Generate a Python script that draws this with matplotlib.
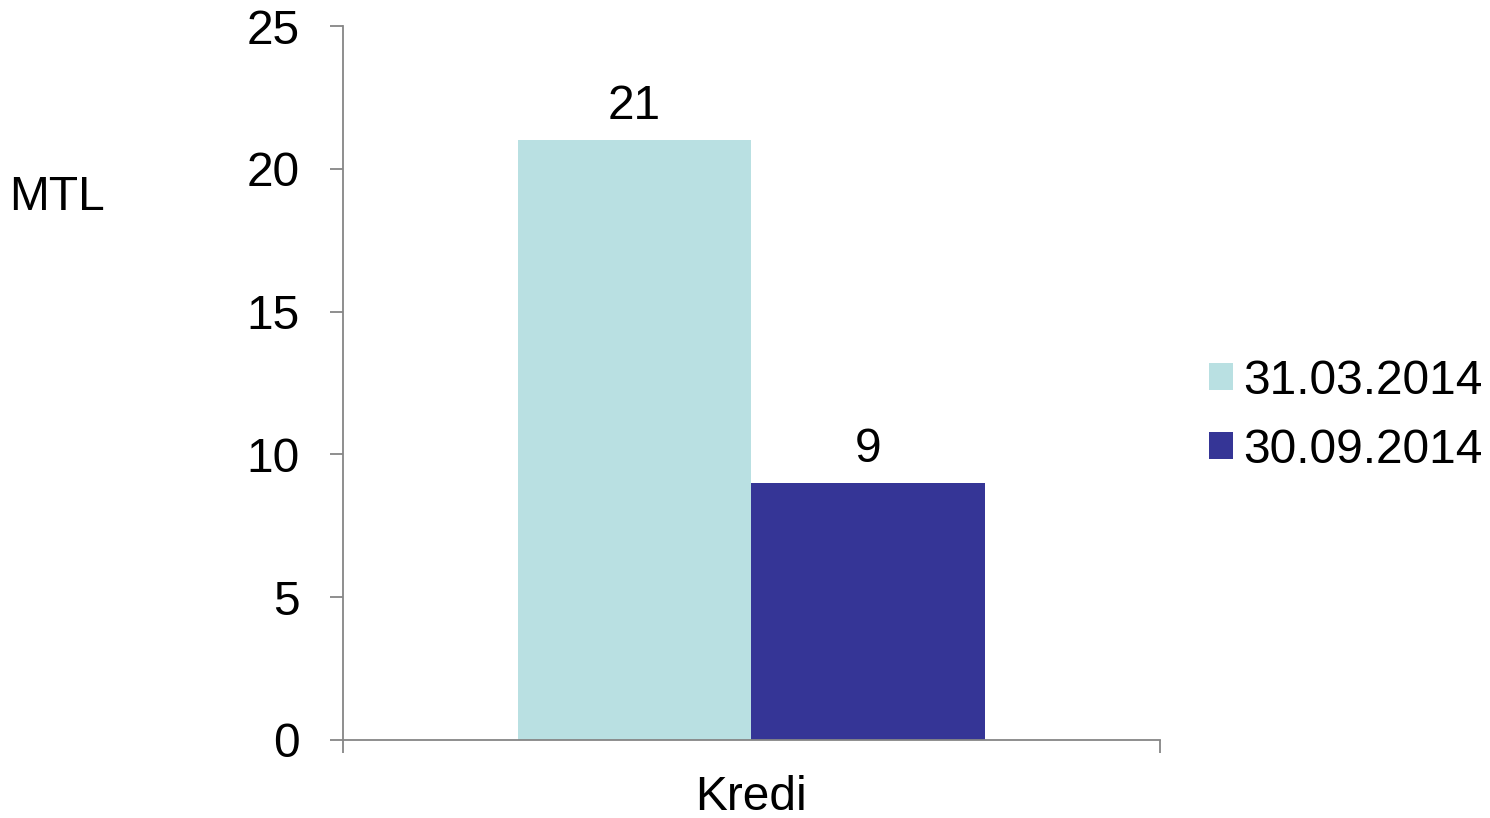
import matplotlib.pyplot as plt
from matplotlib.patches import Patch

plt.rcParams['font.family'] = ['Liberation Sans', 'DejaVu Sans']

categories = ['Kredi']
series_names = ['31.03.2014', '30.09.2014']
series_values = [[21], [9]]
colors = ['#B9E0E2', '#353596']
yticks = [0, 5, 10, 15, 20, 25]

fs = 34.5
fig = plt.figure(figsize=(14.9, 8.18), dpi=100)
ax = fig.add_axes([0.2302, 0.0954, 0.5483, 0.8728])

width = 0.2864
offsets = [-width / 2, width / 2]
for vals, off, col in zip(series_values, offsets, colors):
    xs = [i + off for i in range(len(categories))]
    bars = ax.bar(xs, vals, width=width, color=col, edgecolor='none')
    for b, v in zip(bars, vals):
        ax.annotate(str(v), (b.get_x() + b.get_width() / 2, v),
                    xytext=(0, 8), textcoords='offset points',
                    ha='center', va='bottom', fontsize=fs)

ax.set_xlim(-0.5, len(categories) - 0.5)
ax.set_ylim(0, 25)
ax.set_yticks(yticks)
ax.set_yticklabels([str(t) for t in yticks], fontsize=fs)
ax.set_xticks(range(len(categories)))
ax.set_xticklabels(categories, fontsize=fs)
ax.set_xticks([-0.5, len(categories) - 0.5], minor=True)
ax.tick_params(axis='x', which='major', length=0, pad=25)
ax.tick_params(axis='x', which='minor', length=9, color='#868686', width=1.3)
ax.tick_params(axis='y', length=9.5, color='#868686', width=1.3, pad=21.5)

for s in ['top', 'right']:
    ax.spines[s].set_visible(False)
for s in ['left', 'bottom']:
    ax.spines[s].set_color('#868686')
    ax.spines[s].set_linewidth(1.3)

fig.text(0.006, 0.758, 'MTL', fontsize=fs, va='center', ha='left')

handles = [Patch(facecolor=c, edgecolor='none') for c in colors]
fig.legend(handles, series_names, loc='center left',
           bbox_to_anchor=(0.8114, 0.492), frameon=False, fontsize=fs,
           handlelength=0.5, handleheight=0.5, handletextpad=0.22,
           labelspacing=0.5, borderpad=0, borderaxespad=0)

fig.savefig('out.png', dpi=100)
